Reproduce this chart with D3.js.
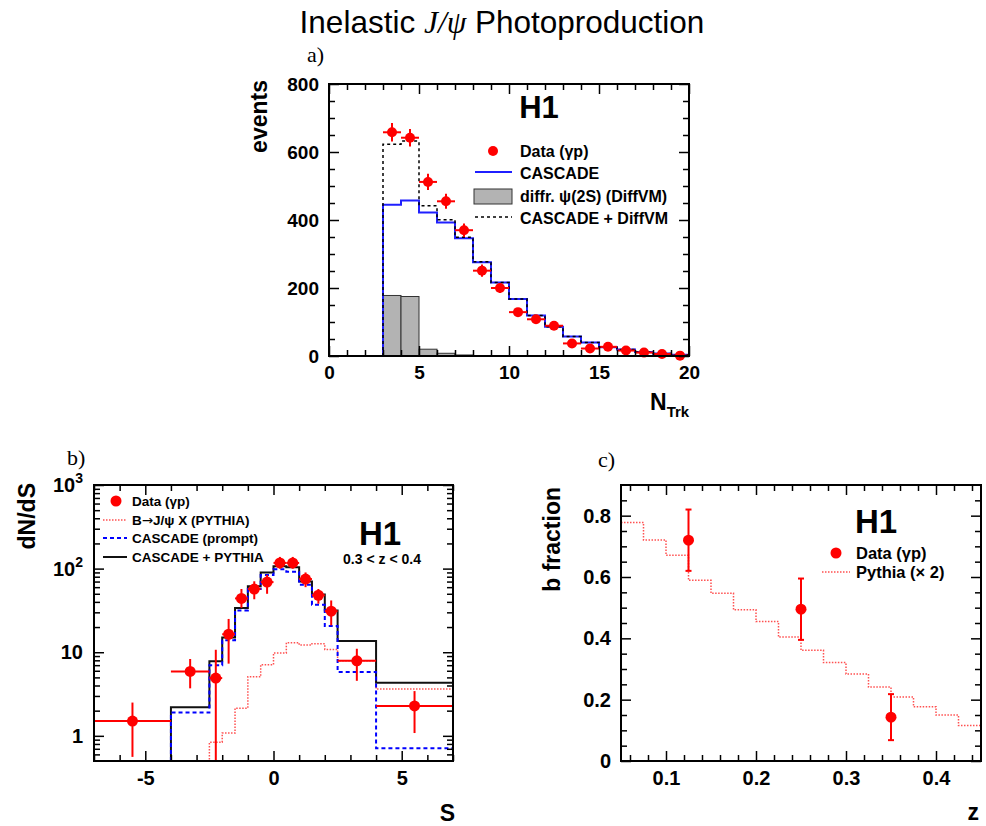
<!DOCTYPE html>
<html><head><meta charset="utf-8">
<script src="https://cdn.jsdelivr.net/npm/d3@7"></script>
<style>body{margin:0;background:#fff}</style>
</head><body><div id="chart"></div>
<script>
var w = 986, h = 826;
var sans = "Liberation Sans, Arial, Helvetica, sans-serif";
var serif = "Liberation Serif, Times New Roman, serif";

// ---- panel a: number of tracks
var trkEdges   = [0,1,2,3,4,5,6,7,8,9,10,11,12,13,14,15,16,17,18,19,20];
var cascadeA   = [0,0,0,445,457,422,393,346,276,216,168,119,86,57,40,26,19,12,7,4];
var diffvmA    = [0,0,0,178,175,20,8,3,1,0,0,0,0,0,0,0,0,0,0,0];
var trkDataX   = [3.5,4.5,5.5,6.5,7.5,8.5,9.5,10.5,11.5,12.5,13.5,14.5,15.5,16.5,17.5,18.5,19.5];
var trkDataY   = [658,642,512,455,370,251,200,129,108,89,37,22,27,16,10,6,1];
var trkDataErr = [27,26,24,22,20,18,15,12,11,10,8,6,7,5,4,3,2];

// ---- panel b: S distribution
var sEdges     = [-7,-4,-2.5,-2,-1.5,-1,-0.5,0,0.5,1,1.5,2,2.5,4,7];
var cascPythia = [0,2.2,7.8,15,33.7,61.6,90,107,104,70,49,31.6,13.6,4.3];
var cascPrompt = [0,1.9,7,13.9,31.6,57,84,98,92,64,37,20.6,5.8,0.71];
var pythiaB    = [0,0,0.84,1.08,2.14,5.08,7.1,9.8,13,12.2,12.6,10.8,7.9,3.63];
var sDataX     = [-5.5,-3.25,-2.25,-1.75,-1.25,-0.75,-0.25,0.25,0.75,1.25,1.75,2.25,3.25,5.5];
var sDataY     = [1.5,5.9,4.9,16.4,44,57,69,117,117,75,48,31,7.9,2.28];
var sDataHi    = [2.5,8.3,10.7,25,57,70.5,84,138,138,90,57,41.6,11,3.43];
var sDataLo    = [0.56,3.7,0,7.3,34,43,50,100,100,60,38,21,4.55,1.08];

// ---- panel c: b fraction vs z
var zEdges     = [0.05,0.075,0.1,0.125,0.15,0.175,0.2,0.225,0.25,0.275,0.3,0.325,0.35,0.375,0.4,0.425,0.45];
var pythiaZ    = [0.778,0.721,0.671,0.589,0.547,0.493,0.455,0.404,0.361,0.321,0.284,0.241,0.209,0.177,0.150,0.116];
var zDataX     = [0.125,0.25,0.35];
var zDataY     = [0.72,0.495,0.143];
var zDataErr   = [0.1,0.1,0.075];

var svg = d3.select("#chart").append("svg")
    .attr("width", w)
    .attr("height", h)
    .style("background", "#fff");

function txt(x, y, s, size, opts) {
  opts = opts || {};
  return svg.append("text")
    .attr("x", x).attr("y", y)
    .attr("font-family", opts.family || sans)
    .attr("font-weight", opts.weight || "bold")
    .attr("font-size", size)
    .attr("text-anchor", opts.anchor || "start")
    .attr("fill", "#000")
    .text(s);
}

function stepPath(x, y, edges, vals) {
  var pts = vals.map(function(v, i) { return [edges[i], v]; });
  pts.push([edges[edges.length-1], vals[vals.length-1]]);
  return d3.line().x(function(d) { return x(d[0]); }).y(function(d) { return y(d[1]); })
    .curve(d3.curveStepAfter)(pts);
}

function addAxis(axis, tx, ty, fs) {
  var a = svg.append("g").attr("transform", "translate(" + tx + "," + ty + ")").call(axis);
  a.select(".domain").remove();
  a.selectAll("line").attr("stroke", "#000").attr("stroke-width", 1.5);
  a.selectAll("text").attr("font-family", sans).attr("font-weight", "bold")
    .attr("font-size", fs).attr("fill", "#000");
  return a;
}

function frame(x, y, xMaj, xMin, yMaj, yMin, xFmt, yFmt, fs) {
  var x0 = x.range()[0], x1 = x.range()[1], y0 = y.range()[0], y1 = y.range()[1];
  addAxis(d3.axisBottom(x).tickValues(xMaj).tickSize(-10).tickPadding(10).tickFormat(xFmt), 0, y0, fs);
  addAxis(d3.axisBottom(x).tickValues(xMin).tickSize(-6).tickFormat(""), 0, y0, fs);
  addAxis(d3.axisTop(x).tickValues(xMaj).tickSize(-10).tickFormat(""), 0, y1, fs);
  addAxis(d3.axisTop(x).tickValues(xMin).tickSize(-6).tickFormat(""), 0, y1, fs);
  addAxis(d3.axisLeft(y).tickValues(yMaj).tickSize(-10).tickPadding(10).tickFormat(yFmt), x0, 0, fs);
  addAxis(d3.axisLeft(y).tickValues(yMin).tickSize(-6).tickFormat(""), x0, 0, fs);
  addAxis(d3.axisRight(y).tickValues(yMaj).tickSize(-10).tickFormat(""), x1, 0, fs);
  addAxis(d3.axisRight(y).tickValues(yMin).tickSize(-6).tickFormat(""), x1, 0, fs);
}

function box(x, y) {
  svg.append("rect")
    .attr("x", x.range()[0]).attr("y", y.range()[1])
    .attr("width", x.range()[1] - x.range()[0])
    .attr("height", y.range()[0] - y.range()[1])
    .attr("fill", "none").attr("stroke", "#000").attr("stroke-width", 2);
}

var plain = function(d) { return String(d); };

// title
var title = txt(502, 33, "Inelastic ", 31.5, {weight: "normal", anchor: "middle"});
title.append("tspan").attr("font-family", serif).attr("font-style", "italic").text("J/\u03c8");
title.append("tspan").text(" Photoproduction");

// ================= panel a =================
var xa = d3.scaleLinear().domain([0, 20]).range([329, 689]);
var ya = d3.scaleLinear().domain([0, 800]).range([356, 84]);
var red = "#ff0000", blue = "#1f1fff";

svg.selectAll("rect.diff").data(diffvmA).enter()
  .append("rect")
    .attr("class", "diff")
    .attr("x", function(d, i) { return xa(trkEdges[i]); })
    .attr("width", function(d, i) { return xa(trkEdges[i+1]) - xa(trkEdges[i]); })
    .attr("y", function(d) { return ya(d); })
    .attr("height", function(d) { return ya(0) - ya(d); })
    .attr("fill", "#b3b3b3")
    .attr("stroke", function(d) { return d > 0 ? "#333" : "none"; })
    .attr("stroke-width", 1);

svg.append("path").attr("d", stepPath(xa, ya, trkEdges, cascadeA))
  .attr("fill", "none").attr("stroke", blue).attr("stroke-width", 2);

var sumA = cascadeA.map(function(d, i) { return d + diffvmA[i]; });
svg.append("path").attr("d", stepPath(xa, ya, trkEdges, sumA))
  .attr("fill", "none").attr("stroke", "#000").attr("stroke-width", 1.5)
  .attr("stroke-dasharray", "3,3");

var ga = svg.selectAll("g.pa").data(trkDataX).enter().append("g").attr("class", "pa");
ga.append("line")
  .attr("x1", function(d) { return xa(d - 0.5); }).attr("x2", function(d) { return xa(d + 0.5); })
  .attr("y1", function(d, i) { return ya(trkDataY[i]); }).attr("y2", function(d, i) { return ya(trkDataY[i]); })
  .attr("stroke", red).attr("stroke-width", 2);
ga.append("line")
  .attr("x1", function(d) { return xa(d); }).attr("x2", function(d) { return xa(d); })
  .attr("y1", function(d, i) { return ya(trkDataY[i] - trkDataErr[i]); })
  .attr("y2", function(d, i) { return ya(trkDataY[i] + trkDataErr[i]); })
  .attr("stroke", red).attr("stroke-width", 2);
ga.append("circle")
  .attr("cx", function(d) { return xa(d); }).attr("cy", function(d, i) { return ya(trkDataY[i]); })
  .attr("r", 5).attr("fill", red);

frame(xa, ya, [0,5,10,15,20], d3.range(1, 20).filter(function(v) { return v % 5; }),
  [0,200,400,600,800], [50,100,150,250,300,350,450,500,550,650,700,750], plain, plain, 19);
box(xa, ya);

txt(539, 118, "H1", 31, {anchor: "middle"});
txt(307, 62, "a)", 22, {family: serif, weight: "normal"});
txt(0, 0, "events", 23, {anchor: "end"}).attr("transform", "translate(267,80) rotate(-90)");
var ntrk = txt(650, 410, "N", 23);
ntrk.append("tspan").attr("font-size", 15).attr("dy", 7).text("Trk");

// legend a
svg.append("circle").attr("cx", 493).attr("cy", 151).attr("r", 5).attr("fill", red);
txt(520, 157, "Data (\u03b3p)", 16);
svg.append("line").attr("x1", 475).attr("x2", 512).attr("y1", 172).attr("y2", 172)
  .attr("stroke", blue).attr("stroke-width", 2);
txt(520, 179, "CASCADE", 16);
svg.append("rect").attr("x", 474).attr("y", 189).attr("width", 38).attr("height", 15)
  .attr("fill", "#b3b3b3").attr("stroke", "#333").attr("stroke-width", 1);
txt(520, 202, "diffr. \u03c8(2S) (DiffVM)", 16);
svg.append("line").attr("x1", 475).attr("x2", 512).attr("y1", 217).attr("y2", 217)
  .attr("stroke", "#000").attr("stroke-width", 1.5).attr("stroke-dasharray", "3,3");
txt(520, 224, "CASCADE + DiffVM", 16);

// ================= panel b =================
var xb = d3.scaleLinear().domain([-7, 7]).range([94, 453]);
var yb = d3.scaleLog().domain([0.5, 1000]).range([761, 485]);
var ybc = function(v) { return yb(Math.max(v, 0.5)); };

svg.append("path").attr("d", stepPath(xb, ybc, sEdges, pythiaB))
  .attr("fill", "none").attr("stroke", "#ff5050").attr("stroke-width", 1.5)
  .attr("stroke-dasharray", "1.5,1.5");
svg.append("path").attr("d", stepPath(xb, ybc, sEdges, cascPythia))
  .attr("fill", "none").attr("stroke", "#111").attr("stroke-width", 2);
svg.append("path").attr("d", stepPath(xb, ybc, sEdges, cascPrompt))
  .attr("fill", "none").attr("stroke", "#0000ff").attr("stroke-width", 2)
  .attr("stroke-dasharray", "4,3");

var gb = svg.selectAll("g.pb").data(sDataX).enter().append("g").attr("class", "pb");
gb.append("line")
  .attr("x1", function(d, i) { return xb(sEdges[i]); }).attr("x2", function(d, i) { return xb(sEdges[i+1]); })
  .attr("y1", function(d, i) { return ybc(sDataY[i]); }).attr("y2", function(d, i) { return ybc(sDataY[i]); })
  .attr("stroke", red).attr("stroke-width", 2);
gb.append("line")
  .attr("x1", function(d) { return xb(d); }).attr("x2", function(d) { return xb(d); })
  .attr("y1", function(d, i) { return ybc(sDataLo[i]); })
  .attr("y2", function(d, i) { return ybc(sDataHi[i]); })
  .attr("stroke", red).attr("stroke-width", 2);
gb.append("circle")
  .attr("cx", function(d) { return xb(d); }).attr("cy", function(d, i) { return ybc(sDataY[i]); })
  .attr("r", 5.5).attr("fill", red);

var logMinor = [0.6,0.7,0.8,0.9,2,3,4,5,6,7,8,9,20,30,40,50,60,70,80,90,200,300,400,500,600,700,800,900];
frame(xb, yb, [-5,0,5], [-7,-6,-4,-3,-2,-1,1,2,3,4,6,7], [1,10,100,1000], logMinor,
  plain, function() { return ""; }, 20);
box(xb, yb);

// log labels
[1, 10, 100, 1000].forEach(function(v) {
  var p = Math.round(Math.log10(v));
  if (p < 2) {
    txt(83, yb(v) + 7, String(v), 20, {anchor: "end"});
  } else {
    var t = txt(83, yb(v) + 7, "10", 20, {anchor: "end"});
    t.append("tspan").attr("font-size", 14).attr("dy", -9).text(String(p));
  }
});

txt(380, 545, "H1", 33, {anchor: "middle"});
txt(382, 564, "0.3 < z < 0.4", 14, {anchor: "middle"});
txt(67, 465, "b)", 22, {family: serif, weight: "normal"});
txt(0, 0, "dN/dS", 23, {anchor: "end"}).attr("transform", "translate(35,483) rotate(-90)");
txt(455, 821, "S", 23, {anchor: "end"});

// legend b
svg.append("circle").attr("cx", 116).attr("cy", 501).attr("r", 5.5).attr("fill", red);
txt(132, 506, "Data (\u03b3p)", 13.5);
svg.append("line").attr("x1", 103).attr("x2", 127).attr("y1", 520).attr("y2", 520)
  .attr("stroke", "#ff5050").attr("stroke-width", 1.5).attr("stroke-dasharray", "1.5,1.5");
var bl = txt(132, 525, "B", 13.5);
bl.append("tspan").attr("font-family", "DejaVu Sans").attr("font-weight", "normal").text("\u2192");
bl.append("tspan").text("J/\u03c8 X (PYTHIA)");
svg.append("line").attr("x1", 103).attr("x2", 127).attr("y1", 538).attr("y2", 538)
  .attr("stroke", "#0000ff").attr("stroke-width", 2).attr("stroke-dasharray", "4,3");
txt(132, 543, "CASCADE (prompt)", 13.5);
svg.append("line").attr("x1", 103).attr("x2", 127).attr("y1", 557).attr("y2", 557)
  .attr("stroke", "#111").attr("stroke-width", 2);
txt(132, 562, "CASCADE + PYTHIA", 13.5);

// ================= panel c =================
var xc = d3.scaleLinear().domain([0.05, 0.45]).range([621, 981]);
var yc = d3.scaleLinear().domain([0, 0.9]).range([761, 485]);

svg.append("path").attr("d", stepPath(xc, yc, zEdges, pythiaZ))
  .attr("fill", "none").attr("stroke", "#ff5050").attr("stroke-width", 1.5)
  .attr("stroke-dasharray", "1.5,1.5");

var gc = svg.selectAll("g.pc").data(zDataX).enter().append("g").attr("class", "pc");
gc.append("line")
  .attr("x1", function(d) { return xc(d); }).attr("x2", function(d) { return xc(d); })
  .attr("y1", function(d, i) { return yc(zDataY[i] - zDataErr[i]); })
  .attr("y2", function(d, i) { return yc(zDataY[i] + zDataErr[i]); })
  .attr("stroke", red).attr("stroke-width", 2);
[-1, 1].forEach(function(s) {
  gc.append("line")
    .attr("x1", function(d) { return xc(d) - 3; }).attr("x2", function(d) { return xc(d) + 3; })
    .attr("y1", function(d, i) { return yc(zDataY[i] + s * zDataErr[i]); })
    .attr("y2", function(d, i) { return yc(zDataY[i] + s * zDataErr[i]); })
    .attr("stroke", red).attr("stroke-width", 2);
});
gc.append("circle")
  .attr("cx", function(d) { return xc(d); }).attr("cy", function(d, i) { return yc(zDataY[i]); })
  .attr("r", 5.5).attr("fill", red);

frame(xc, yc, [0.1,0.2,0.3,0.4], [0.06,0.08,0.12,0.14,0.16,0.18,0.22,0.24,0.26,0.28,0.32,0.34,0.36,0.38,0.42,0.44],
  [0,0.2,0.4,0.6,0.8], [0.05,0.1,0.15,0.25,0.3,0.35,0.45,0.5,0.55,0.65,0.7,0.75,0.85],
  function(d) { return d3.format(".1f")(d); }, function(d) { return d === 0 ? "0" : d3.format(".1f")(d); }, 20);
box(xc, yc);

txt(876, 533, "H1", 33, {anchor: "middle"});
txt(598, 467, "c)", 22, {family: serif, weight: "normal"});
txt(0, 0, "b fraction", 23, {anchor: "end"}).attr("transform", "translate(560,487) rotate(-90)");
txt(979, 820, "z", 23, {anchor: "end"});

// legend c
svg.append("circle").attr("cx", 836).attr("cy", 553).attr("r", 5.5).attr("fill", red);
txt(856, 559, "Data (\u03b3p)", 16.5);
svg.append("line").attr("x1", 822).attr("x2", 850).attr("y1", 572).attr("y2", 572)
  .attr("stroke", "#ff5050").attr("stroke-width", 1.5).attr("stroke-dasharray", "1.5,1.5");
txt(856, 578, "Pythia (\u00d7 2)", 16.5);
</script></body></html>
